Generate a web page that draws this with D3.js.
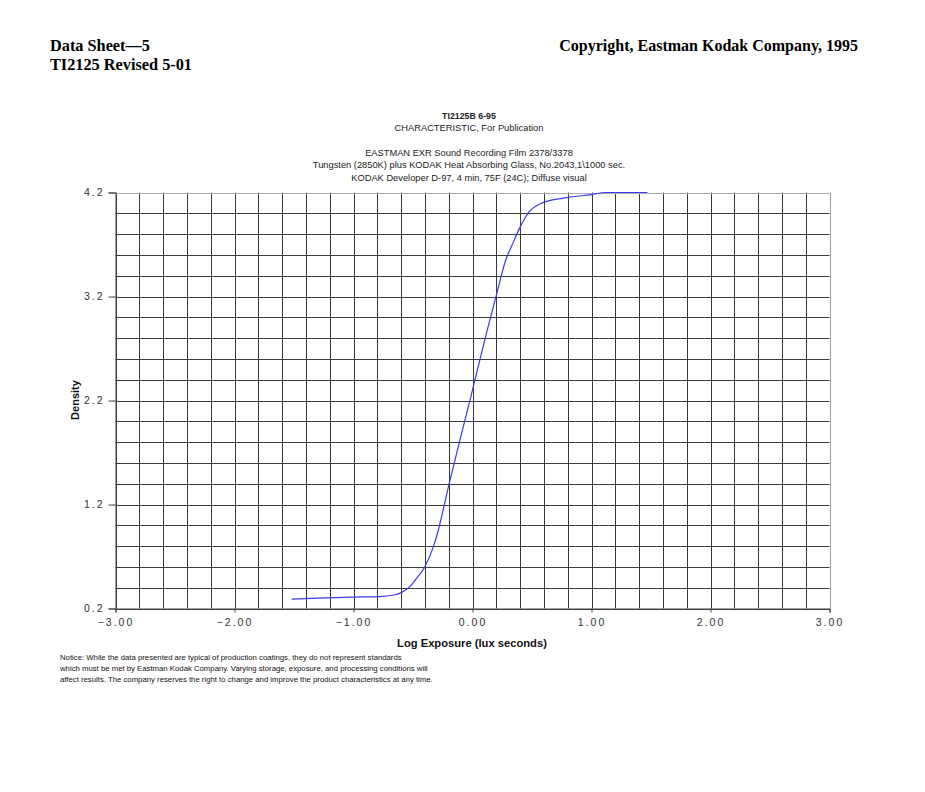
<!DOCTYPE html>
<html>
<head>
<meta charset="utf-8">
<script src="https://cdn.jsdelivr.net/npm/d3@7/dist/d3.min.js"></script>
<style>
  body { margin: 0; background: #fff; }
  svg { display: block; }
</style>
</head>
<body>
<svg id="chart" width="925" height="792"></svg>
<script>
// ---- data ----
const logExposure = [-1.52, -1.3, -1.0, -0.78, -0.66, -0.595, -0.526, -0.47, -0.406, -0.33, -0.288, -0.273, -0.196, -0.106, -0.013, 0.04, 0.12, 0.202, 0.285, 0.327, 0.397, 0.48, 0.565, 0.789, 0.998, 1.12, 1.47];
const density = [0.29, 0.30, 0.31, 0.315, 0.33, 0.355, 0.41, 0.49, 0.59, 0.79, 0.95, 1.02, 1.40, 1.82, 2.24, 2.49, 2.86, 3.22, 3.57, 3.68, 3.86, 4.02, 4.09, 4.15, 4.18, 4.2, 4.2];
const xTickValues = [-3, -2, -1, 0, 1, 2, 3];
const yTickValues = [0.2, 1.2, 2.2, 3.2, 4.2];
const titleLines = ["TI2125B 6-95", "CHARACTERISTIC, For Publication", "", "EASTMAN EXR Sound Recording Film 2378/3378", "Tungsten (2850K) plus KODAK Heat Absorbing Glass, No.2043,1\\1000 sec.", "KODAK Developer D-97, 4 min, 75F (24C); Diffuse visual"];
const headerLeft = ["Data Sheet\u20145", "TI2125 Revised 5-01"];
const headerRight = "Copyright, Eastman Kodak Company, 1995";
const noticeLines = ["Notice: While the data presented are typical of production coatings, they do not represent standards", "which must be met by Eastman Kodak Company.  Varying storage, exposure, and processing conditions will", "affect results.  The company reserves the right to change and improve the product characteristics at any time."];

// ---- layout ----
const svg = d3.select("#chart");
const L = 115.5, R = 829.5, T = 192.5, B = 608.5;
const x = d3.scaleLinear().domain([-3, 3]).range([L, R]);
const y = d3.scaleLinear().domain([0.2, 4.2]).range([B, T]);

// header
svg.append("g").selectAll("text").data(headerLeft).join("text")
  .attr("x", 50).attr("y", (d, i) => 51 + i * 19)
  .attr("font-family", "Liberation Serif, Times New Roman, serif")
  .attr("font-weight", "bold").attr("font-size", 16.3).text(d => d);
svg.append("text").attr("x", 858).attr("y", 51).attr("text-anchor", "end")
  .attr("font-family", "Liberation Serif, Times New Roman, serif")
  .attr("font-weight", "bold").attr("font-size", 16).text(headerRight);

// titles
const tY = [119, 131, 143, 156, 168, 181];
svg.append("g").selectAll("text").data(titleLines).join("text")
  .attr("x", 469).attr("y", (d, i) => tY[i]).attr("text-anchor", "middle")
  .attr("font-family", "Liberation Sans, Arial, sans-serif")
  .attr("font-size", (d, i) => i === 0 ? 8.8 : 9.3).attr("fill", "#222")
  .attr("font-weight", (d, i) => i === 0 ? "bold" : "normal")
  .text(d => d);

// grid
const xGrid = d3.range(-3, 3.0001, 0.2);
const yGrid = d3.range(0.2, 4.2001, 0.2);
const grid = svg.append("g");
grid.selectAll("line.v").data(xGrid).join("line")
  .attr("x1", d => Math.round(x(d)) + 0.5).attr("x2", d => Math.round(x(d)) + 0.5)
  .attr("y1", T).attr("y2", B)
  .attr("stroke", (d, i) => (i === xGrid.length - 1) ? "#999" : "#3a3a3a").attr("stroke-width", 1);
grid.selectAll("line.h").data(yGrid).join("line")
  .attr("y1", d => Math.round(y(d)) + 0.5).attr("y2", d => Math.round(y(d)) + 0.5)
  .attr("x1", L).attr("x2", R)
  .attr("stroke", (d, i) => (i === yGrid.length - 1) ? "#aaa" : "#3a3a3a").attr("stroke-width", 1);

// axes
const xAxis = d3.axisBottom(x).tickValues(xTickValues).tickSize(4).tickPadding(6)
  .tickFormat(d => d3.format(".2f")(d).replace("-", "\u2212"));
const gx = svg.append("g").attr("transform", `translate(0,${B})`).call(xAxis);
const yAxis = d3.axisLeft(y).tickValues(yTickValues).tickSize(7).tickPadding(4)
  .tickFormat(d3.format(".1f"));
const gy = svg.append("g").attr("transform", `translate(${L},0)`).call(yAxis);
[gx, gy].forEach(g => {
  g.select(".domain").attr("stroke", "#444");
  g.selectAll(".tick line").attr("stroke", "#444");
  g.selectAll(".tick text").attr("font-family", "Liberation Sans, Arial, sans-serif")
    .attr("font-size", 10.5).attr("fill", "#333").style("letter-spacing", "2px");
});

// axis labels
svg.append("text").attr("x", 472).attr("y", 647).attr("text-anchor", "middle")
  .attr("font-family", "Liberation Sans, Arial, sans-serif").attr("font-weight", "bold")
  .attr("font-size", 11.2).attr("fill", "#111").text("Log Exposure (lux seconds)");
svg.append("text").attr("transform", "translate(79,400) rotate(-90)").attr("text-anchor", "middle")
  .attr("font-family", "Liberation Sans, Arial, sans-serif").attr("font-weight", "bold")
  .attr("font-size", 11).attr("fill", "#111").text("Density");

// curve
const pts = logExposure.map((v, i) => [v, density[i]]);
svg.append("path").datum(pts)
  .attr("d", d3.line().x(d => x(d[0])).y(d => y(d[1])).curve(d3.curveMonotoneX))
  .attr("fill", "none").attr("stroke", "#3a3aee").attr("stroke-width", 1.2);

// notice
svg.append("g").selectAll("text").data(noticeLines).join("text")
  .attr("x", 60).attr("y", (d, i) => 660 + i * 11)
  .attr("font-family", "Liberation Sans, Arial, sans-serif")
  .attr("font-size", 7.75).attr("fill", "#111").text(d => d);
</script>
</body>
</html>
